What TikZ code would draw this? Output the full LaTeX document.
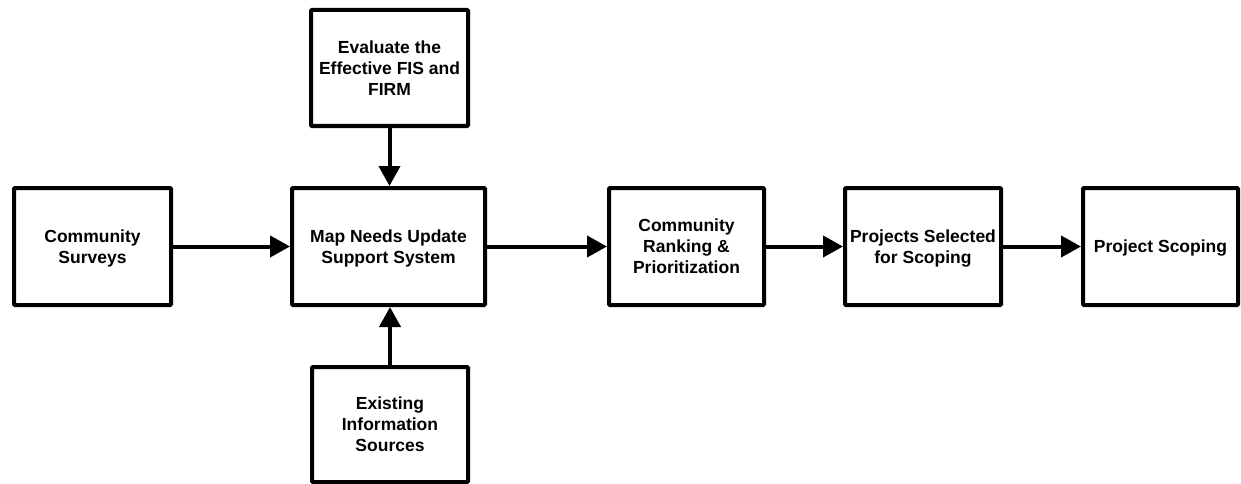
\documentclass[tikz,border=0pt]{standalone}
\usepackage{fontspec}
\setmainfont{Liberation Sans}
\usetikzlibrary{arrows.meta}
\begin{document}
\begin{tikzpicture}[x=1pt,y=-1pt,
  box/.style={draw=black,line width=4pt,fill=white,align=center,inner sep=2pt,
    font=\fontsize{17.5}{21}\selectfont\bfseries,rounded corners=1pt,text depth=0pt},
  conn/.style={line width=4pt,-{Triangle[length=20pt,width=21pt]}}]
\useasboundingbox (0,0) rectangle (1241,484);
\node[box,minimum width=157pt,minimum height=117pt] (cs) at (92.5,246.5) {Community\\Surveys};
\node[box,minimum width=193pt,minimum height=117pt] (map) at (388.5,246.5) {Map Needs Update\\Support System};
\node[box,minimum width=157pt,minimum height=116pt] (ev) at (389.5,68) {Evaluate the\\Effective FIS and\\FIRM};
\node[box,minimum width=156pt,minimum height=115pt] (ex) at (390,424.5) {Existing\\Information\\Sources};
\node[box,minimum width=155pt,minimum height=117pt] (rk) at (686.5,246.5) {Community\\Ranking \&\\Prioritization};
\node[box,minimum width=156pt,minimum height=117pt] (ps) at (923,246.5) {Projects Selected\\for Scoping};
\node[box,minimum width=155pt,minimum height=117pt] (sc) at (1160.5,246.5) {Project Scoping};
\draw[conn] (cs) -- (map);
\draw[conn] (ev.south) -- (ev.south |- map.north);
\draw[conn] (ex.north) -- (ex.north |- map.south);
\draw[conn] (map) -- (rk);
\draw[conn] (rk) -- (ps);
\draw[conn] (ps) -- (sc);
\end{tikzpicture}
\end{document}
